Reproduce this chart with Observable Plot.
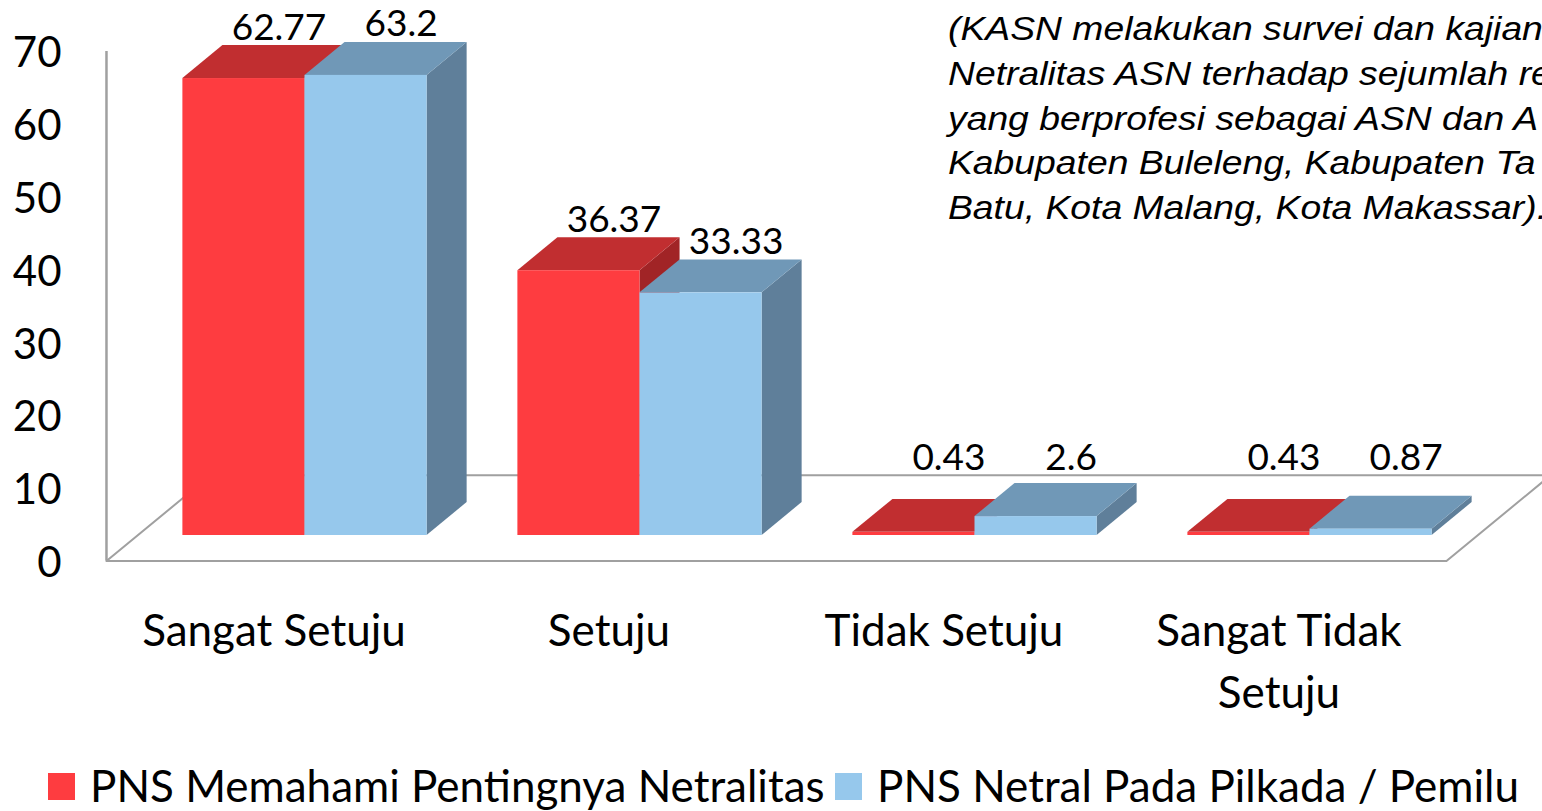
<!DOCTYPE html>
<html>
<head>
<meta charset="utf-8">
<script src="https://cdn.jsdelivr.net/npm/d3@7"></script>
<script src="https://cdn.jsdelivr.net/npm/@observablehq/plot@0.6"></script>
<style>
html, body { margin: 0; padding: 0; overflow: hidden; background: #fff; }
#wrap { position: relative; width: 1542px; height: 811px; overflow: hidden; background: #fff; }
#chart { position: absolute; left: 0; top: 0; }
#note { position: absolute; left: 948px; top: 7px; font: italic 33px "Liberation Sans", Arial, sans-serif; line-height: 44.8px; white-space: nowrap; color: #000; transform: scaleX(1.13); transform-origin: 0 0; }
.sw { position: absolute; width: 27px; height: 27px; top: 773px; }
.lt { position: absolute; top: 760px; font: 44px Lato, sans-serif; line-height: 50px; white-space: nowrap; color: #000; }
</style>
</head>
<body>
<div id="wrap">
  <div id="chart"></div>
  <div id="note"></div>
  <div id="legend"></div>
</div>
<script>
// ---- data ----
const categories = ["Sangat Setuju", "Setuju", "Tidak Setuju", "Sangat Tidak\nSetuju"];
const seriesNames = ["PNS Memahami Pentingnya Netralitas", "PNS Netral Pada Pilkada / Pemilu"];
const memahami = [62.77, 36.37, 0.43, 0.43];
const netral = [63.2, 33.33, 2.6, 0.87];
const yTicks = [0, 10, 20, 30, 40, 50, 60, 70];
const noteLines = [
  "(KASN melakukan survei dan kajian",
  "Netralitas ASN terhadap sejumlah re",
  "yang berprofesi sebagai ASN dan A",
  "Kabupaten Buleleng, Kabupaten Ta",
  "Batu, Kota Malang, Kota Makassar)."
];

// ---- 3D projection (one bar depth expressed in data units) ----
const DX = 0.1195, DY = 4.53;
const BW = 0.3645;
const FRONT = -0.775, BACK = 1.825;

const palette = [
  {front: "#FE3C40", top: "#C12E30", side: "#A12426", off: -1},
  {front: "#96C8EC", top: "#7098B7", side: "#5F7F9A", off: 0}
];
const seriesValues = [memahami, netral];

const seriesBars = seriesValues.map((vals, s) =>
  vals.map((v, i) => ({
    id: s + "-" + i, s, i, v,
    x1: i + palette[s].off * BW,
    x2: i + (palette[s].off + 1) * BW
  }))
);

const sidePts = bars => bars.flatMap(b => [
  {id: b.id, x: b.x2, y1: 0, y2: b.v},
  {id: b.id, x: b.x2 + DX, y1: DY, y2: b.v + DY}
]);
const topPts = bars => bars.flatMap(b => [
  {id: b.id, y: b.v, x1: b.x1, x2: b.x2},
  {id: b.id, y: b.v + DY, x1: b.x1 + DX, x2: b.x2 + DX}
]);

const xMin = -0.5, xMax = categories.length - 0.5;
const floorPts = [
  [xMin, FRONT], [xMax, FRONT], [xMax, BACK], [xMin, BACK], [xMin, FRONT]
].map(([x, t]) => ({x: x + t * DX, y: t * DY}));

const marks = [
  Plot.line(floorPts, {x: "x", y: "y", stroke: "#a0a0a0", strokeWidth: 2}),
  Plot.ruleX([xMin + FRONT * DX], {y1: FRONT * DY, y2: d3.max(yTicks) + FRONT * DY, stroke: "#a0a0a0", strokeWidth: 2.5})
];
seriesBars.forEach((bars, s) => marks.push(
  Plot.areaY(sidePts(bars), {x: "x", y1: "y1", y2: "y2", z: "id", fill: palette[s].side})
));
seriesBars.forEach((bars, s) => marks.push(
  Plot.areaX(topPts(bars), {y: "y", x1: "x1", x2: "x2", z: "id", fill: palette[s].top})
));
seriesBars.forEach((bars, s) => marks.push(
  Plot.rect(bars, {x1: "x1", x2: "x2", y1: 0, y2: "v", fill: palette[s].front})
));
const allBars = seriesBars.flat();
marks.push(
  Plot.text(allBars, {
    x: d => (d.x1 + d.x2) / 2 + 0.875 * DX,
    y: d => Math.max(d.v, 3.64) + 0.875 * DY,
    text: d => String(d.v),
    lineAnchor: "middle", dy: -22, fontSize: 37, fill: "#000"
  }),
  Plot.text(categories, {
    x: (d, i) => i + FRONT * DX,
    y: () => FRONT * DY,
    text: d => d,
    lineAnchor: "top", dy: 41, fontSize: 44, lineHeight: 62 / 44, fill: "#000"
  }),
  Plot.axisY({ticks: yTicks, anchor: "left", tickSize: 0, tickPadding: 45, dy: 28, fontSize: 42, fill: "#000"})
);

const chart = Plot.plot({
  width: 1542,
  height: 740,
  marginLeft: 106,
  marginRight: 0,
  marginTop: 0,
  marginBottom: 0,
  style: {fontFamily: "Lato, sans-serif", fontSize: "42px", background: "transparent", overflow: "visible", color: "#000"},
  x: {domain: [xMin, xMax], range: [137, 1477], axis: null},
  y: {domain: [0, d3.max(yTicks)], range: [535, 25.4], axis: null},
  marks
});
document.getElementById("chart").appendChild(chart);

// note text
const note = document.getElementById("note");
noteLines.forEach(t => { const d = document.createElement("div"); d.textContent = t; note.appendChild(d); });

// legend
const legend = document.getElementById("legend");
const legX = [48, 835];
seriesNames.forEach((name, s) => {
  const sw = document.createElement("div");
  sw.className = "sw"; sw.style.left = legX[s] + "px"; sw.style.background = palette[s].front;
  const lt = document.createElement("div");
  lt.className = "lt"; lt.style.left = (legX[s] + 42) + "px"; lt.textContent = name;
  legend.appendChild(sw); legend.appendChild(lt);
});
</script>
</body>
</html>
